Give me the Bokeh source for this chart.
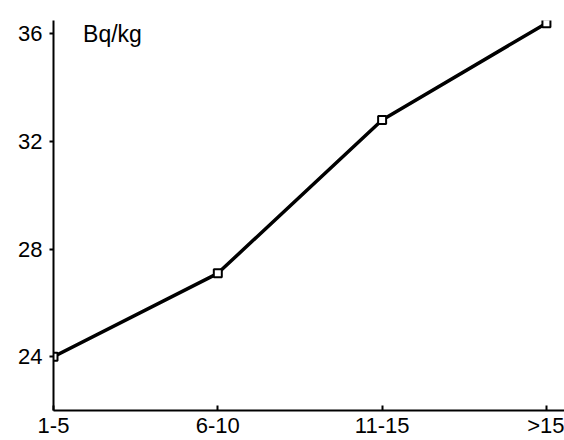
from bokeh.plotting import figure
from bokeh.models import Range1d, FixedTicker, Label
from bokeh.embed import file_html
from bokeh.resources import INLINE

categories = ["1-5", "6-10", "11-15", ">15"]
values = [24.0, 27.1, 32.8, 36.4]
y_ticks = [24, 28, 32, 36]
unit_label = "Bq/kg"

xs = list(range(len(categories)))

p = figure(width=564, height=440, output_backend="svg", toolbar_location=None,
           x_range=Range1d(0, 3.11), y_range=Range1d(22.0, 36.5),
           min_border_left=53, min_border_right=0, min_border_top=20, min_border_bottom=27)
p.outline_line_color = None
p.xgrid.visible = False
p.ygrid.visible = False
p.background_fill_color = "white"
p.border_fill_color = "white"

FONT = "Liberation Sans"

p.xaxis.ticker = FixedTicker(ticks=xs)
p.xaxis.major_label_overrides = {i: c for i, c in enumerate(categories)}
p.xaxis.major_tick_in = 5
p.xaxis.major_tick_out = 0
p.xaxis.minor_tick_line_color = None
p.xaxis.axis_line_width = 2
p.xaxis.major_tick_line_width = 2
p.xaxis.major_label_text_font = FONT
p.xaxis.major_label_text_font_size = "22px"
p.xaxis.major_label_text_color = "black"
p.xaxis.major_label_standoff = 2

p.yaxis.ticker = FixedTicker(ticks=y_ticks)
p.yaxis.major_tick_in = 0
p.yaxis.major_tick_out = 4
p.yaxis.minor_tick_line_color = None
p.yaxis.axis_line_width = 2
p.yaxis.major_tick_line_width = 2
p.yaxis.major_label_text_font = FONT
p.yaxis.major_label_text_font_size = "22px"
p.yaxis.major_label_text_color = "black"
p.yaxis.major_label_standoff = 7

p.line(xs, values, line_color="black", line_width=3.5)
p.scatter(xs, values, marker="square", size=8, fill_color="white",
          line_color="black", line_width=2)

p.add_layout(Label(x=0.18, y=36.0, text=unit_label, text_font=FONT,
                   text_font_size="23px", text_color="black",
                   text_baseline="alphabetic"))

open("out.html", "w").write(file_html(p, INLINE))
